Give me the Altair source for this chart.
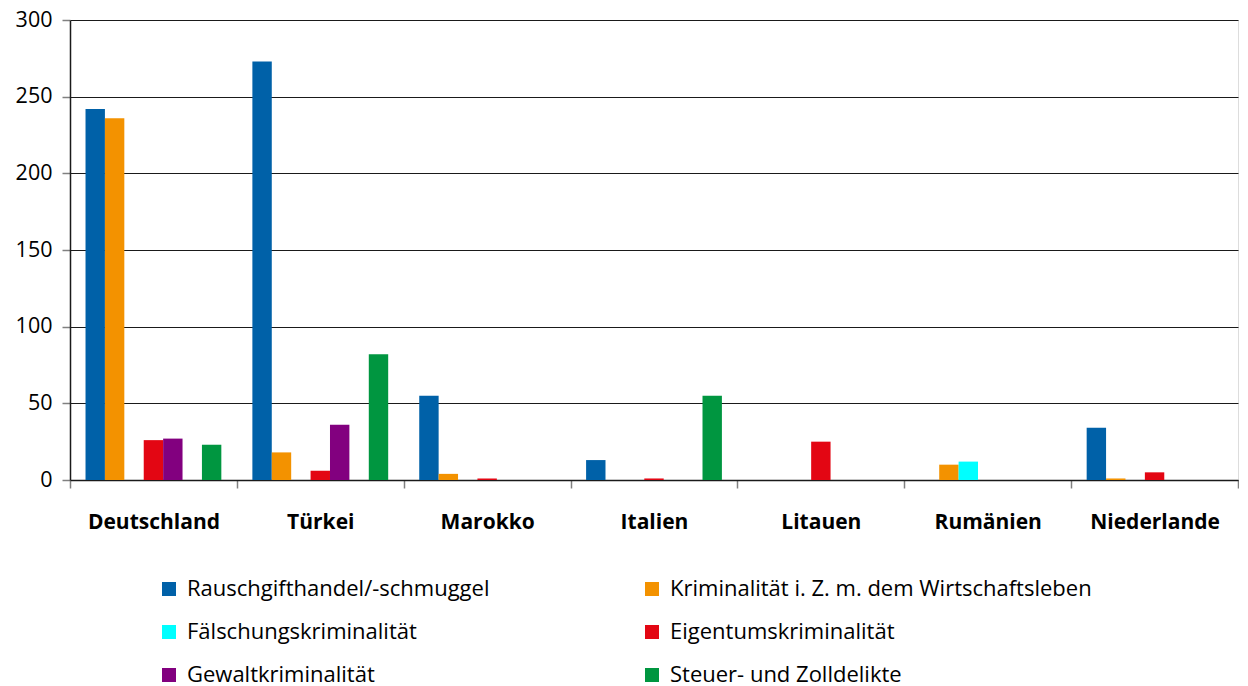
import altair as alt
import pandas as pd

countries = ["Deutschland", "Türkei", "Marokko", "Italien", "Litauen", "Rumänien", "Niederlande"]
series = [
    "Rauschgifthandel/-schmuggel",
    "Kriminalität i. Z. m. dem Wirtschaftsleben",
    "Fälschungskriminalität",
    "Eigentumskriminalität",
    "Gewaltkriminalität",
    "Steuer- und Zolldelikte",
]
colors = ["#0061A8", "#F39200", "#00FFFF", "#E30613", "#82007F", "#009640"]

rauschgift = [242, 273, 55, 13, 0, 0, 34]
wirtschaft = [236, 18, 4, 0, 0, 10, 1]
faelschung = [0, 0, 0, 0, 0, 12, 0]
eigentum = [26, 6, 1, 1, 25, 0, 5]
gewalt = [27, 36, 0, 0, 0, 0, 0]
steuer = [23, 82, 0, 55, 0, 0, 0]

y_ticks = [0, 50, 100, 150, 200, 250, 300]

rows = []
for s, vals in zip(series, [rauschgift, wirtschaft, faelschung, eigentum, gewalt, steuer]):
    for c, v in zip(countries, vals):
        rows.append({"Land": c, "Delikt": s, "Wert": v})
df = pd.DataFrame(rows)

# an empty slot sits between Gewaltkriminalität and Steuer- und Zolldelikte
offset_domain = series[:5] + ["(leer)"] + series[5:]

FONT = "Open Sans"

chart = alt.Chart(df).mark_bar().encode(
    x=alt.X(
        "Land:N",
        sort=countries,
        scale=alt.Scale(paddingInner=0, paddingOuter=0),
        axis=alt.Axis(
            title=None, labelAngle=0, labelFont=FONT, labelFontSize=21,
            labelFontWeight="bold", labelColor="black", labelPadding=23,
            tickBand="extent", tickSize=8, tickColor="#808080", tickWidth=1.5,
            domainColor="#1a1a1a", domainWidth=1.5, grid=False,
        ),
    ),
    xOffset=alt.XOffset(
        "Delikt:N",
        scale=alt.Scale(domain=offset_domain, paddingInner=0, paddingOuter=0.8),
    ),
    y=alt.Y(
        "Wert:Q",
        scale=alt.Scale(domain=[0, 300], nice=False),
        axis=alt.Axis(
            title=None, values=y_ticks, labelFont=FONT, labelFontSize=21.5,
            labelColor="black", labelPadding=10, tickSize=8, tickColor="#808080",
            tickWidth=1.5, domainColor="#1a1a1a", domainWidth=1.5,
            grid=True, gridColor="#1a1a1a", gridWidth=1.2,
        ),
    ),
    color=alt.Color(
        "Delikt:N",
        scale=alt.Scale(domain=series, range=colors),
        legend=alt.Legend(
            title=None, orient="none", legendX=88, legendY=558, columns=2,
            direction="horizontal", symbolType="square", symbolSize=196,
            symbolStrokeWidth=0, labelFont=FONT, labelFontSize=22,
            labelColor="black", labelOffset=7, rowPadding=21, columnPadding=151,
            labelLimit=600,
        ),
    ),
).properties(
    width=1168, height=460
).configure_view(stroke=None).configure(padding={"left": 7, "top": 1, "right": 0, "bottom": 3})

chart.save("out.html", embed_options={"renderer": "svg", "actions": False})
